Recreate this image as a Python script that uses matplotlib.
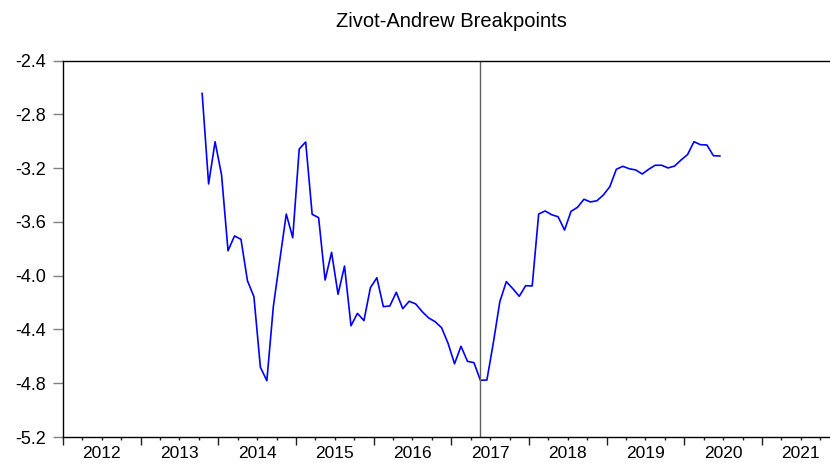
import matplotlib.pyplot as plt
import matplotlib.transforms as mtransforms
import numpy as np

plt.rcParams['font.family'] = ['Liberation Sans', 'DejaVu Sans']
plt.rcParams['axes.unicode_minus'] = False

# monthly Zivot-Andrews statistic, Oct 2013 .. Jun 2020
start_year = 2013
start_month = 10
za_stat = [
    -2.643, -3.317, -3.003, -3.250, -3.814, -3.704, -3.729, -4.037, -4.156, -4.681,
    -4.781, -4.230, -3.883, -3.541, -3.717, -3.057, -3.005, -3.543, -3.568, -4.032,
    -3.826, -4.138, -3.928, -4.372, -4.280, -4.334, -4.089, -4.015, -4.230, -4.225,
    -4.123, -4.245, -4.190, -4.210, -4.267, -4.314, -4.342, -4.387, -4.503, -4.655,
    -4.525, -4.637, -4.647, -4.778, -4.776, -4.498, -4.193, -4.044, -4.096, -4.153,
    -4.074, -4.076, -3.541, -3.518, -3.546, -3.561, -3.660, -3.521, -3.491, -3.431,
    -3.451, -3.442, -3.399, -3.337, -3.208, -3.186, -3.204, -3.213, -3.243, -3.208,
    -3.178, -3.178, -3.198, -3.184, -3.139, -3.099, -3.003, -3.025, -3.027, -3.107,
    -3.109,
]
break_year, break_month = 2017, 5
years = list(range(2012, 2022))
yticks = [-5.2, -4.8, -4.4, -4.0, -3.6, -3.2, -2.8, -2.4]

# months plotted at the middle of each period
idx = np.arange(len(za_stat))
t = start_year + (start_month - 1 + idx + 0.5) / 12.0
t_break = break_year + (break_month - 1 + 0.5) / 12.0

fig = plt.figure(figsize=(8.3, 4.63), dpi=100)
ax = fig.add_axes([63 / 830, 26 / 463, 776.6 / 830, 376.3 / 463])

ax.plot(t, za_stat, color='#0000ff', lw=1.2)
ax.axvline(t_break, color='#606060', lw=1.0)

ax.set_xlim(2012, 2022)
ax.set_ylim(-5.2, -2.4)
ax.set_yticks(yticks)
ax.set_yticklabels(['%.1f' % v for v in yticks])
ax.set_xticks(years)
ax.set_xticklabels([str(y) for y in years])
ax.set_xticks(np.arange(2012, 2022, 0.25), minor=True)

ax.spines['right'].set_visible(False)
for s in ['left', 'top', 'bottom']:
    ax.spines[s].set_linewidth(1.0)

ax.tick_params(axis='y', length=7, width=1.0, color='#808080', pad=5, labelsize=13)
ax.tick_params(axis='x', which='major', length=5.5, width=1.0, color='#202020', pad=1, labelsize=12.5)
ax.tick_params(axis='x', which='minor', length=2.5, width=1.0, color='#202020')

# shift year labels to the middle of each year
off = mtransforms.ScaledTranslation(0.5 * 776.6 / 10 / 100, 0, fig.dpi_scale_trans)
for lab in ax.get_xticklabels():
    lab.set_transform(lab.get_transform() + off)

ax.set_title('Zivot-Andrew Breakpoints', fontsize=14.5, pad=24)

fig.savefig('out.png', dpi=100)
